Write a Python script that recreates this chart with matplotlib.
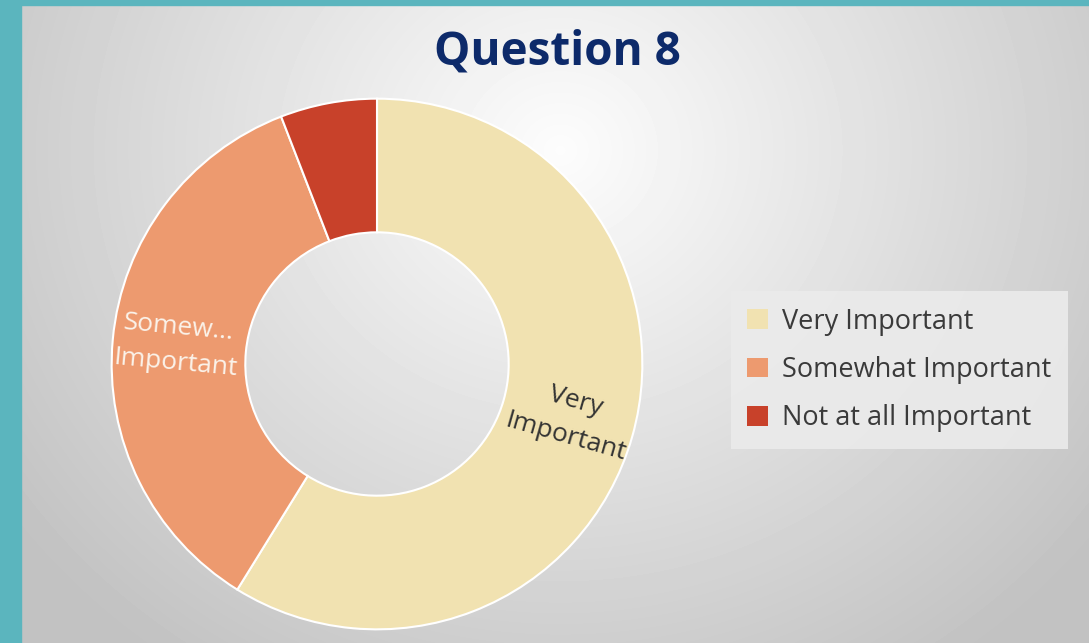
import numpy as np
import matplotlib
matplotlib.use("Agg")
import matplotlib.pyplot as plt

categories = ["Very Important", "Somewhat Important", "Not at all Important"]
counts = [10, 6, 1]
slice_labels = ["Very\nImportant", "Somew...\nImportant", ""]
colors = ["#f1e2b1", "#ed9a6f", "#c8412a"]
label_colors = ["#333333", "#fbf3ea", "#ffffff"]

W, H = 1089, 643
fig = plt.figure(figsize=(W / 100, H / 100), dpi=100)

# background: grey radial gradient + teal frame
bg = fig.add_axes([0, 0, 1, 1])
yy, xx = np.mgrid[0:H, 0:W]
d = np.sqrt(((xx - 560) / 650.0) ** 2 + ((yy - 150) / 600.0) ** 2)
shade = np.clip(0.99 - 0.22 * d, 0.76, 1)
bg.imshow(shade, cmap="gray", vmin=0, vmax=1, extent=[0, W, H, 0], aspect="auto",
          interpolation="bilinear")
bg.add_patch(plt.Rectangle((0, 0), 21, H, color="#5bb5be"))
bg.add_patch(plt.Rectangle((0, 0), W, 5, color="#5bb5be"))
bg.set_xlim(0, W)
bg.set_ylim(H, 0)
bg.axis("off")

fig.text(557 / W, 1 - 52 / H, "Question 8", ha="center", va="center",
         fontsize=33, fontweight="bold", color="#0d2a6a", family="Open Sans")

# donut
cx, cy, r = 377, 643 - 364, 268
ax = fig.add_axes([(cx - r) / W, (cy - r) / H, 2 * r / W, 2 * r / H])
ax.patch.set_alpha(0)
hole = 133 / 268
wedges, _ = ax.pie(counts, colors=colors, startangle=90, counterclock=False,
                   radius=1, wedgeprops=dict(width=1 - hole, edgecolor="white", linewidth=1.5))
ax.set_xlim(-1.01, 1.01)
ax.set_ylim(-1.01, 1.01)
ax.set_aspect("equal")
ax.axis("off")

mid_r = (1 + hole) / 2 + 0.01
for w, lab, lc in zip(wedges, slice_labels, label_colors):
    if not lab:
        continue
    ang = (w.theta1 + w.theta2) / 2
    rot = ang
    if rot > 90 or rot < -90:
        rot -= 180
    while rot < -90:
        rot += 360
    x = mid_r * np.cos(np.radians(ang))
    y = mid_r * np.sin(np.radians(ang))
    ax.text(x, y, lab, ha="center", va="center", rotation=rot, rotation_mode="anchor",
            fontsize=19, color=lc, family="Open Sans", linespacing=1.6)

# legend
leg = fig.legend(wedges, categories, loc="center left",
                 bbox_to_anchor=(731 / W, 1 - 370 / H), frameon=True,
                 handlelength=0.75, handleheight=0.75, handletextpad=0.55,
                 labelspacing=0.75, borderpad=0.6, borderaxespad=0,
                 prop={"family": "Open Sans", "size": 19.5})
leg.get_frame().set_facecolor("#ebebeb")
leg.get_frame().set_edgecolor("none")
leg.get_frame().set_alpha(0.9)
leg.get_frame().set_boxstyle("square", pad=0)
for t in leg.get_texts():
    t.set_color("#3a3a3a")
for h in leg.legend_handles:
    h.set_edgecolor("none")

fig.savefig("out.png", dpi=100)
